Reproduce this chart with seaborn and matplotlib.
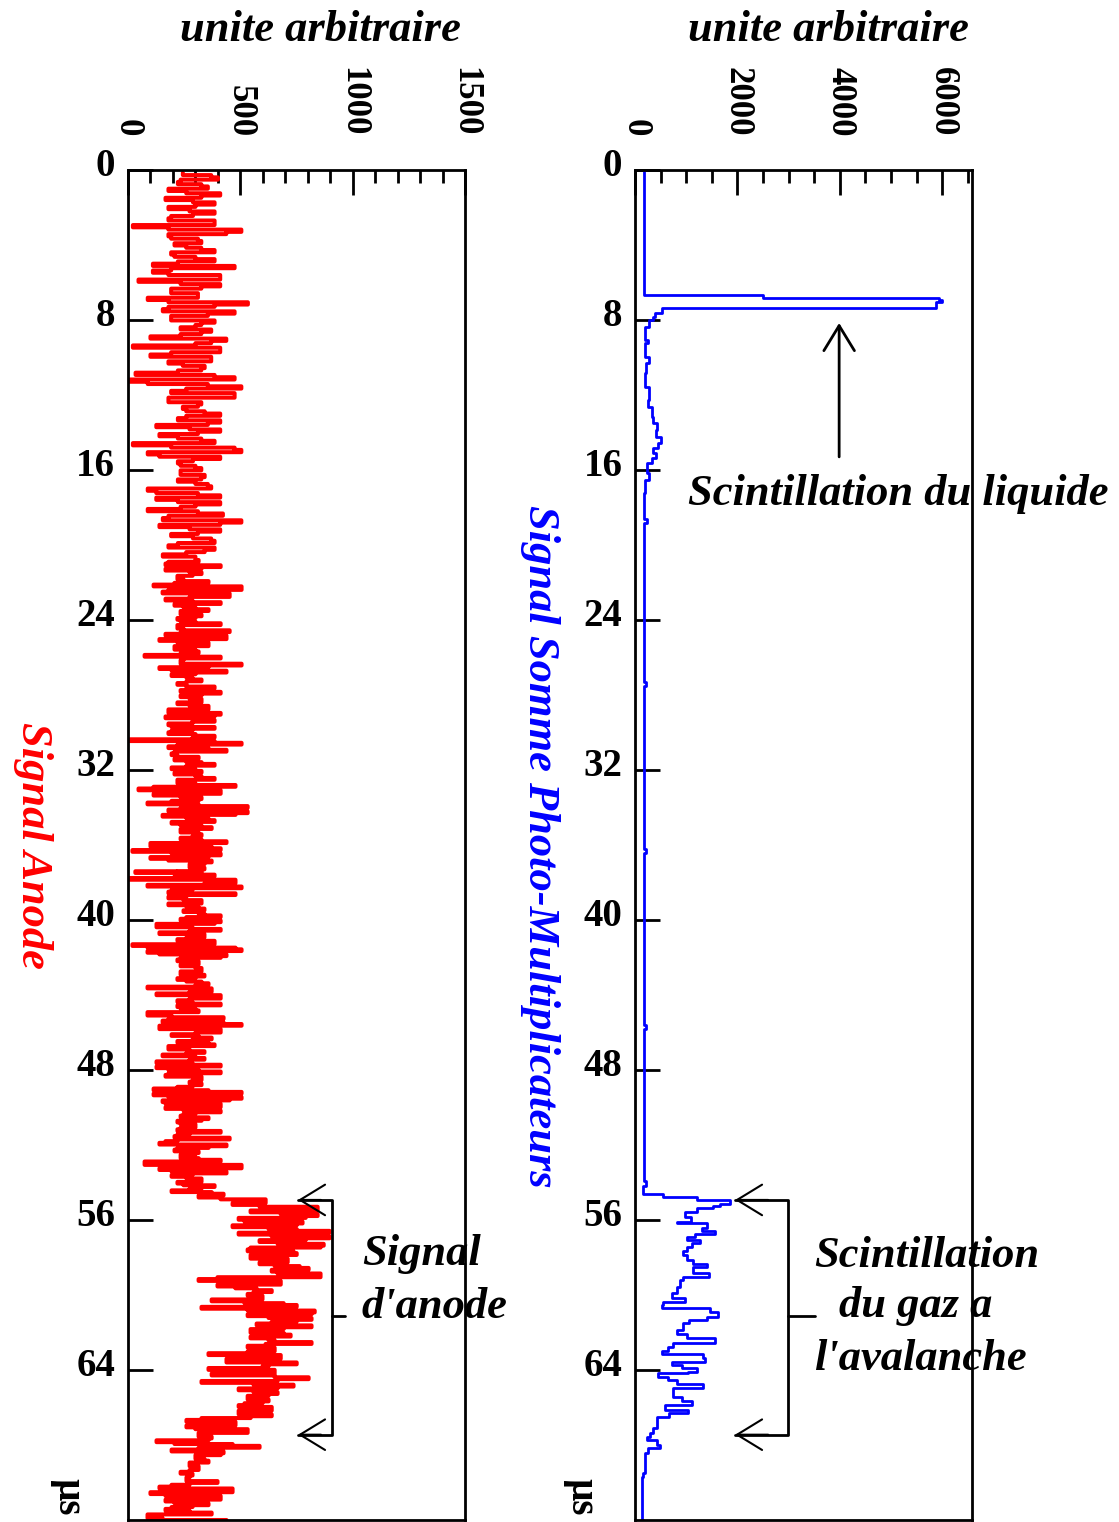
import numpy as np
import pandas as pd
import matplotlib
matplotlib.use("Agg")
import matplotlib.pyplot as plt
from matplotlib.ticker import MultipleLocator
from matplotlib.transforms import ScaledTranslation
import seaborn as sns

# Anode signal: min / max per row, four time spans (µs)
anode_spans = [(0.15, 20.5), (20.8, 37.3), (37.4, 54.6), (54.8, 72.0)]

anode_lo_a = [246, 236, 224, 182, 261, 169, 291, 182, 276, 194, 182, 24, 182, 182, 194, 209, 261, 194, 209, 224,
              113, 113, 182, 49, 236, 194, 194, 90, 182, 182, 157, 194, 194, 302, 236, 236, 102, 302, 24, 194,
              102, 182, 246, 224, 36, 10, 90, 261, 194, 182, 182, 246, 261, 261, 224, 128, 276, 142, 224, 24,
              194, 90, 142, 224, 236, 236, 236, 224, 302, 90, 128, 128, 224, 236, 90, 182, 157, 142, 276, 194,
              291, 224, 182, 261, 157]
anode_hi_a = [372, 402, 328, 357, 412, 328, 387, 302, 387, 291, 387, 387, 506, 439, 313, 328, 328, 387, 302, 387,
              476, 194, 412, 412, 412, 328, 313, 313, 535, 387, 476, 357, 387, 328, 372, 328, 439, 372, 412, 412,
              372, 372, 343, 328, 387, 476, 357, 506, 476, 476, 328, 313, 343, 412, 412, 357, 412, 313, 328, 387,
              476, 506, 412, 291, 302, 328, 343, 328, 357, 372, 313, 412, 412, 302, 313, 424, 506, 412, 412, 313,
              372, 387, 387, 343, 302]

anode_lo_b = [182, 169, 169, 276, 222, 222, 209, 116, 182, 156, 276, 169, 209, 249, 236, 236, 222, 236, 222, 222,
              236, 169, 142, 222, 209, 209, 236, 76, 236, 236, 142, 196, 196, 262, 262, 222, 262, 236, 236, 276,
              222, 276, 182, 182, 169, 289, 182, 196, 196, 182, 289, 9, 222, 182, 209, 196, 209, 262, 262, 196,
              209, 302, 222, 222, 116, 49, 116, 236, 196, 89, 236, 182, 156, 262, 196, 236, 236, 236, 289, 236,
              102, 102, 22, 196, 102, 182, 276, 276, 222]
anode_hi_b = [316, 414, 329, 329, 289, 249, 360, 507, 507, 454, 454, 289, 414, 302, 360, 329, 302, 302, 414, 249,
              454, 440, 440, 360, 360, 302, 316, 414, 249, 507, 360, 440, 302, 289, 329, 262, 387, 414, 329, 329,
              329, 360, 360, 414, 387, 387, 289, 387, 289, 302, 387, 387, 507, 360, 440, 222, 316, 329, 387, 302,
              329, 329, 387, 302, 480, 414, 414, 329, 316, 316, 534, 534, 480, 360, 387, 329, 374, 316, 329, 329,
              440, 374, 414, 414, 360, 374, 342, 342, 329]

anode_lo_c = [35, 209, 9, 342, 89, 196, 182, 182, 249, 182, 262, 249, 316, 262, 236, 129, 129, 276, 142, 262,
              222, 22, 89, 89, 142, 236, 222, 236, 302, 236, 236, 222, 262, 302, 89, 276, 129, 276, 222, 222,
              236, 89, 89, 182, 156, 142, 142, 302, 196, 289, 222, 182, 182, 262, 156, 276, 129, 129, 182, 182,
              169, 289, 276, 222, 116, 116, 182, 156, 169, 169, 249, 249, 236, 222, 236, 236, 222, 222, 209, 169,
              142, 222, 209, 236, 236, 76, 76, 142, 196, 196, 262, 222, 249, 276, 196, 316]
anode_hi_c = [329, 387, 480, 480, 507, 289, 480, 262, 329, 329, 316, 342, 342, 414, 414, 387, 289, 414, 342, 342,
              387, 387, 480, 507, 440, 414, 316, 316, 329, 329, 342, 302, 329, 360, 374, 374, 414, 414, 289, 414,
              302, 316, 196, 427, 427, 507, 414, 414, 316, 374, 360, 387, 276, 342, 302, 342, 289, 414, 316, 414,
              329, 329, 329, 289, 360, 507, 507, 454, 414, 414, 414, 302, 360, 329, 302, 302, 414, 276, 454, 222,
              440, 360, 316, 302, 316, 414, 507, 507, 440, 289, 329, 329, 387, 329, 374, 427]

anode_lo_d = [414, 467, 587, 547, 681, 494, 520, 467, 627, 494, 641, 587, 667, 547, 534, 547, 547, 587, 654, 641,
              667, 400, 316, 400, 480, 560, 534, 374, 520, 329, 534, 534, 627, 641, 574, 547, 547, 547, 627, 614,
              534, 534, 360, 440, 440, 600, 360, 374, 654, 329, 560, 494, 560, 534, 534, 520, 494, 494, 494, 329,
              262, 262, 302, 316, 316, 129, 209, 316, 196, 302, 302, 276, 276, 276, 236, 262, 262, 196, 142, 102,
              169, 169, 209, 196, 169, 89, 89, 156]
anode_hi_d = [614, 614, 845, 845, 845, 792, 778, 752, 752, 898, 898, 792, 872, 858, 738, 752, 712, 712, 765, 805,
              858, 858, 681, 681, 574, 641, 600, 600, 694, 752, 832, 818, 818, 752, 818, 694, 694, 725, 654, 818,
              654, 654, 681, 681, 752, 627, 654, 654, 805, 667, 738, 667, 667, 627, 627, 600, 641, 641, 641, 547,
              480, 480, 534, 534, 374, 360, 467, 587, 427, 414, 342, 360, 316, 316, 289, 276, 400, 276, 467, 467,
              414, 414, 360, 289, 276, 374, 156, 440]

# Photomultiplier sum: step trace, value held from each time to the next
pm_time = [0, 6.67, 6.83, 6.95, 7.05, 7.36, 7.64, 7.82, 8.0, 8.36, 9.07, 9.24, 9.96, 10.3, 10.84, 11.56, 12.27,
           12.62, 13.16, 13.51, 13.87, 14.22, 14.58, 14.84, 15.11, 15.38, 15.64, 16.18, 16.53, 17.2, 18.6, 18.8,
           27.3, 27.5, 36.2, 36.4, 45.6, 45.8, 53.9, 54.2, 54.61, 54.76, 54.94, 55.15, 55.26, 55.38, 55.56, 55.83,
           56.09, 56.18, 56.45, 56.57, 56.75, 56.93, 57.07, 57.25, 57.43, 57.64, 57.87, 58.14, 58.32, 58.53, 58.85,
           59.03, 59.2, 59.56, 59.91, 60.18, 60.36, 60.54, 60.71, 60.89, 61.16, 61.34, 61.51, 61.87, 62.08, 62.31,
           62.58, 62.76, 62.97, 63.15, 63.38, 63.56, 63.74, 63.91, 64.09, 64.18, 64.36, 64.54, 64.75, 64.98, 65.25,
           65.46, 65.64, 65.87, 66.14, 66.31, 66.49, 66.85, 67.11, 67.38, 67.56, 67.74, 68.0, 68.18, 68.45, 69.51,
           69.69, 72.0]
pm_value = [180, 2500, 5930, 5990, 5870, 530, 390, 350, 270, 190, 250, 190, 270, 220, 190, 270, 250,
            330, 350, 430, 410, 510, 450, 350, 410, 330, 230, 270, 200, 180, 230, 180,
            210, 180, 210, 180, 210, 180, 210, 150, 541, 1205, 1856, 1661, 1531, 1205, 977, 1100,
            814, 1400, 1303, 1563, 1172, 1010, 1270, 1107, 1010, 944, 1010, 1140, 1400, 1140, 1453,
            944, 879, 814, 716, 977, 554, 521, 1466, 1628, 1400, 1062, 944, 814, 1010, 1563,
            749, 651, 521, 1335, 1368, 716, 912, 1205, 1042, 456, 651, 814, 1335, 749, 749,
            912, 1107, 586, 1042, 671, 423, 423, 358, 293, 228, 423, 488, 261, 195, 163,
            130, 150]

time_ticks = list(range(0, 72, 8))

# build the zig-zag anode trace from the row extremes
vals, times = [], []
k = 0
for lo, hi, (t0, t1) in zip([anode_lo_a, anode_lo_b, anode_lo_c, anode_lo_d],
                            [anode_hi_a, anode_hi_b, anode_hi_c, anode_hi_d], anode_spans):
    tt = np.linspace(t0, t1, len(lo))
    half = (t1 - t0) / (len(lo) - 1) / 2
    for a, b, t in zip(lo, hi, tt):
        first, second = (a, b) if k % 2 == 0 else (b, a)
        vals += [first, second]
        times += [t, t + half]
        k += 1
anode = pd.DataFrame({"value": vals, "time": times})
pm = pd.DataFrame({"value": pm_value, "time": pm_time})

sns.set_style("white")
plt.rcParams["font.family"] = ["Liberation Serif", "DejaVu Serif"]
plt.rcParams["font.weight"] = "bold"
plt.rcParams["text.color"] = "black"
plt.rcParams["xtick.color"] = "black"
plt.rcParams["ytick.color"] = "black"
plt.rcParams["axes.labelcolor"] = "black"
plt.rcParams["axes.edgecolor"] = "black"

W, H = 1119, 1522
fig = plt.figure(figsize=(W / 100, H / 100), dpi=100)
ax1 = fig.add_axes([127.5 / W, 2 / H, 337.5 / W, 1350 / H])
ax2 = fig.add_axes([635 / W, 2 / H, 337 / W, 1350 / H])

sns.lineplot(data=anode, x="value", y="time", orient="y", sort=False, estimator=None,
             drawstyle="steps-pre", color="#ff0000", lw=2.9, ax=ax1)
sns.lineplot(data=pm, x="value", y="time", orient="y", sort=False, estimator=None,
             drawstyle="steps-pre", color="#0000ff", lw=2.0, ax=ax2)

ax1.set_xlim(0, 1500)
ax2.set_xlim(0, 6580)
ax1.xaxis.set_major_locator(MultipleLocator(500))
ax1.xaxis.set_minor_locator(MultipleLocator(100))
ax2.xaxis.set_major_locator(MultipleLocator(2000))
ax2.xaxis.set_minor_locator(MultipleLocator(500))

for ax in (ax1, ax2):
    ax.set_ylim(72, 0)
    ax.set_yticks(time_ticks)
    ax.set_xlabel("")
    ax.set_ylabel("")
    ax.xaxis.tick_top()
    ax.tick_params(axis="x", which="both", direction="in", top=True, bottom=False,
                   width=2, color="black", labelcolor="black", labelsize=25, pad=24, labelrotation=-90)
    ax.tick_params(axis="x", which="major", length=18)
    ax.tick_params(axis="x", which="minor", length=9)
    ax.tick_params(axis="y", direction="in", left=True, right=False, length=18,
                   width=2, color="black", labelcolor="black", labelsize=28, pad=9)
    for s in ax.spines.values():
        s.set_linewidth(2)
        s.set_color("black")
    for lab in ax.get_yticklabels():
        lab.set_transform(lab.get_transform() + ScaledTranslation(0, 6 / 72, fig.dpi_scale_trans))

# brackets and arrows
arrow = dict(arrowstyle="->,head_length=0.9,head_width=0.55", lw=1.5, color="black",
             shrinkA=0, shrinkB=0, mutation_scale=20)
ax1.plot([758, 907, 907, 758], [54.93, 54.93, 67.45, 67.45], color="black", lw=2, clip_on=False)
ax1.plot([907, 967], [61.12, 61.12], color="black", lw=2, clip_on=False)
for t in (54.93, 67.45):
    ax1.annotate("", xy=(758, t), xytext=(860, t), arrowprops=arrow)
ax2.plot([1954, 2984, 2984, 1954], [54.93, 54.93, 67.45, 67.45], color="black", lw=2, clip_on=False)
ax2.plot([2984, 3517], [61.12, 61.12], color="black", lw=2, clip_on=False)
for t in (54.93, 67.45):
    ax2.annotate("", xy=(1954, t), xytext=(2600, t), arrowprops=arrow)
ax2.annotate("", xy=(3986, 8.16), xytext=(3986, 15.3), arrowprops=dict(arrow, lw=2))


def fx(px):
    return px / W


def fy(py):
    return 1 - py / H


big = dict(fontsize=32, fontweight="bold", fontstyle="italic", color="black")
fig.text(fx(320), fy(30), "unite arbitraire", ha="center", va="center", **big)
fig.text(fx(828), fy(30), "unite arbitraire", ha="center", va="center", **big)
fig.text(fx(33), fy(845), "Signal Anode", rotation=-90, ha="center", va="center",
         **dict(big, color="#ff0000"))
fig.text(fx(540), fy(846), "Signal Somme Photo-Multiplicateurs", rotation=-90, ha="center", va="center",
         **dict(big, color="#0000ff"))
fig.text(fx(898), fy(505), "Scintillation du liquide", ha="center", va="baseline", **big)
fig.text(fx(362), fy(1265), "Signal", ha="left", va="baseline", **big)
fig.text(fx(361), fy(1318), "d'anode", ha="left", va="baseline", **big)
fig.text(fx(927), fy(1267), "Scintillation", ha="center", va="baseline", **big)
fig.text(fx(916), fy(1317), "du gaz a", ha="center", va="baseline", **big)
fig.text(fx(920), fy(1370), "l'avalanche", ha="center", va="baseline", **big)
fig.text(fx(68), fy(1497), "µs", rotation=-90, ha="center", va="center", fontsize=28, fontweight="bold",
         color="black")
fig.text(fx(581), fy(1497), "µs", rotation=-90, ha="center", va="center", fontsize=28, fontweight="bold",
         color="black")

fig.savefig("out.png", dpi=100)
